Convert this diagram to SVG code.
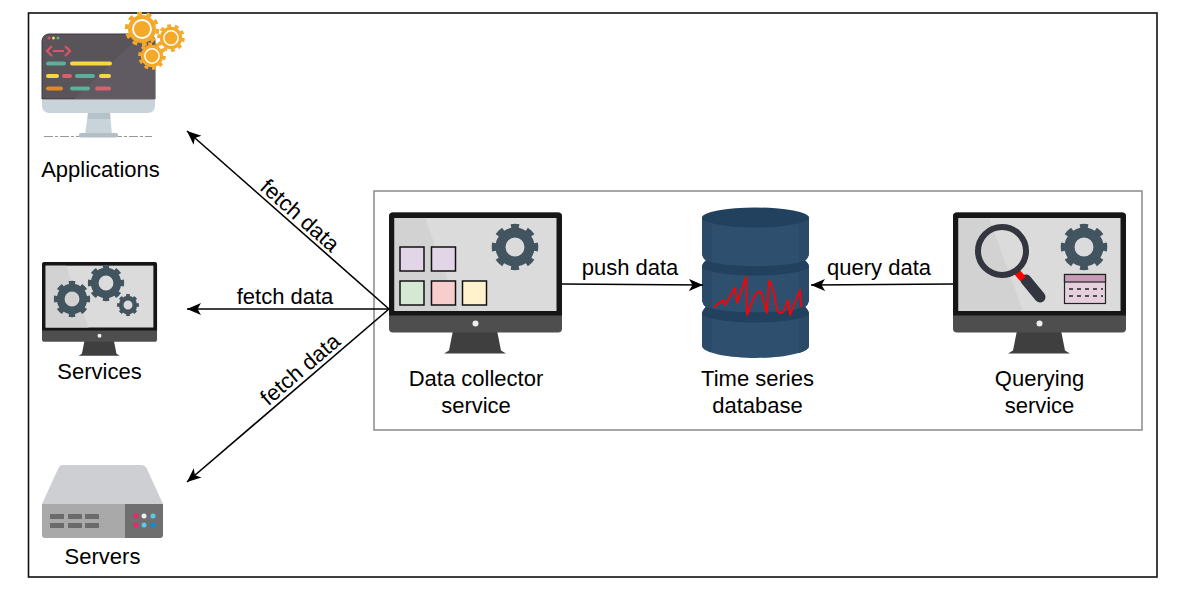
<svg xmlns="http://www.w3.org/2000/svg" xmlns:xlink="http://www.w3.org/1999/xlink" width="1178" height="596" viewBox="0 0 1178 596">
<style>
text{font-family:"Liberation Sans",Arial,sans-serif;font-size:22px;fill:#000;text-anchor:middle}
.c{fill:none;stroke:#000;stroke-width:1.6;marker-end:url(#a)}
.sq{stroke:#111;stroke-width:1.5}
.r{fill:none;stroke-linecap:round;stroke-width:4}
</style>
<defs>
<marker id="a" markerUnits="userSpaceOnUse" markerWidth="16" markerHeight="14" refX="14" refY="7" orient="auto"><path d="M0 1L14 7L0 13L3.500 7Z" fill="#000"/></marker>
<g id="gear"><circle r="14.500" fill="none" stroke="#42545f" stroke-width="10"/><circle r="20" fill="none" stroke="#42545f" stroke-width="6.500" pathLength="16" stroke-dasharray="1" stroke-dashoffset=".5"/></g>
<g id="ogear"><circle r="14" fill="#f4a92a"/><circle r="15.500" fill="none" stroke="#f4a92a" stroke-width="3.500" pathLength="20" stroke-dasharray="1"/><circle r="9" fill="#f4a92a" stroke="#fff" stroke-width="1.800"/></g>
<g id="mon">
<path d="M64 118H108L112 138L117 141H55L60 138Z" fill="#3f3f3f"/>
<rect x="0" y="0" width="173" height="120" rx="4" fill="#4e4e4e"/>
<path d="M0 4a4 4 0 0 1 4-4H169a4 4 0 0 1 4 4V103H0Z" fill="#161616"/>
<rect x="5.500" y="5.500" width="162" height="93" fill="#dbdbdb"/>
<path d="M5.500 5.500H36L70 98.500H5.500Z" fill="#d2d2d2"/>
<circle cx="86.500" cy="111" r="3" fill="#eee"/>
</g>
</defs>

<rect id="frame" x="28.500" y="13" width="1128.500" height="564" fill="#fff" stroke="#111" stroke-width="1.600"/>
<rect id="boundary" x="374" y="191" width="768" height="239" fill="none" stroke="#8a8a8a" stroke-width="1.500"/>

<g id="applications">
<path d="M88 113H110L112 135H85Z" fill="#c9d4da"/><path d="M88 113H110L110.500 119H87.500Z" fill="#b6c2c9"/>
<path d="M44 136.500H80M113 136.500H152" stroke="#999" stroke-width="1" stroke-dasharray="9 2 3 2"/>
<rect x="79" y="133" width="39" height="4.500" rx="2" fill="#b4bec6"/>
<path d="M42 100H155V106a7 7 0 0 1-7 7H49a7 7 0 0 1-7-7Z" fill="#c9d4da"/>
<path d="M42 99V41a7 7 0 0 1 7-7H148a7 7 0 0 1 7 7V99Z" fill="#59535a" stroke="#3e3b40" stroke-width="1"/>
<path d="M74 99L142 34H148a7 7 0 0 1 7 7V99Z" fill="#605a62"/>
<circle cx="49" cy="38" r="1.500" fill="#e0556a"/><circle cx="53.500" cy="38" r="1.500" fill="#f6d743"/><circle cx="58" cy="38" r="1.500" fill="#5ab09a"/>
<path d="M52 46L47 51L52 56M65 46L70 51L65 56M53 51H64" fill="none" stroke="#dc5464" stroke-width="2.200"/>
<path class="r" stroke="#5ab09a" d="M48 63.500H64M77 76H93M72 88.500H88"/>
<path class="r" stroke="#f6d743" d="M72 63.500H110M48 76H57M101 76H109"/>
<path class="r" stroke="#dc5f6c" d="M64 76H70M97 88.500H109"/>
<path class="r" stroke="#e08a1e" d="M48 88.500H61"/>
<use xlink:href="#ogear" href="#ogear" transform="translate(142 29)"/>
<use xlink:href="#ogear" href="#ogear" transform="translate(171 38) scale(.8)"/>
<use xlink:href="#ogear" href="#ogear" transform="translate(152 56) scale(.8)"/>
<text x="100.500" y="177">Applications</text>
</g>

<g id="services">
<use xlink:href="#mon" href="#mon" transform="translate(42 262) scale(.665)"/>
<use xlink:href="#gear" href="#gear" transform="translate(72 299) scale(.78)"/>
<use xlink:href="#gear" href="#gear" transform="translate(106 283) scale(.78)"/>
<use xlink:href="#gear" href="#gear" transform="translate(128 305) scale(.47)"/>
<text x="99.500" y="379">Services</text>
</g>

<g id="servers">
<path d="M62 465H141Q145 465 147 469L163 504H42L58 469Q60 465 62 465Z" fill="#cdcfd2"/>
<path d="M42 504H125V538H45Q42 538 42 535Z" fill="#a9a9a9"/>
<path d="M125 504H163V535Q163 538 160 538H125Z" fill="#6f6f6f"/>
<g fill="#6b6b6b"><rect x="50" y="514" width="14" height="5"/><rect x="68" y="514" width="14" height="5"/><rect x="85" y="514" width="14" height="5"/><rect x="50" y="523" width="14" height="5"/><rect x="68" y="523" width="14" height="5"/><rect x="85" y="523" width="14" height="5"/></g>
<circle cx="136" cy="516" r="2.500" fill="#f0246e"/><circle cx="144" cy="516" r="2.500" fill="#eee"/><circle cx="153" cy="516" r="2.500" fill="#5bc8ef"/>
<circle cx="136" cy="525" r="2.500" fill="#f0246e"/><circle cx="144" cy="525" r="2.500" fill="#5bc8ef"/><circle cx="153" cy="525" r="2.500" fill="#0a8fd8"/>
<text x="102.500" y="564">Servers</text>
</g>

<g id="data-collector">
<use xlink:href="#mon" href="#mon" transform="translate(389 212.500)"/>
<use xlink:href="#gear" href="#gear" transform="translate(515 247)"/>
<rect class="sq" x="400" y="247" width="24" height="24" fill="#e1d5e7"/>
<rect class="sq" x="431.500" y="247" width="24" height="24" fill="#e1d5e7"/>
<rect class="sq" x="400" y="281" width="24" height="24" fill="#d5e8d4"/>
<rect class="sq" x="431.500" y="281" width="24" height="24" fill="#f8cecc"/>
<rect class="sq" x="462.500" y="281" width="24" height="24" fill="#fff2cc"/>
<text x="476" y="386">Data collector</text>
<text x="476" y="413">service</text>
</g>

<g id="time-series-db">
<path d="M702 218V252Q702 258 706 260.500Q702 263 702 268V299Q702 304 706 307Q702 310 702 315V346C702 353 730 358 756 358S809 353 809 346V315Q809 310 805 307Q809 304 809 299V268Q809 263 805 260.500Q809 258 809 252V218Z" fill="#2f4f6e"/>
<path d="M702 218V252Q702 258 706 260.500Q702 263 702 268V299Q702 304 706 307Q702 310 702 315V346Q704 350 712 351V218Z" fill="#2b4a68"/>
<path d="M799 218V353Q809 350 809 346V315Q809 310 805 307Q809 304 809 299V268Q809 263 805 260.500Q809 258 809 252V218Z" fill="#2b4a68"/>
<ellipse cx="755.500" cy="217.500" rx="53.500" ry="10" fill="#22415e"/>
<path d="M706 260.500C725 268 786 268 805 260.500L808 264Q809 266 809 268C790 278 721 278 702 268Q702 264 706 260.500Z" fill="#22415e"/>
<path d="M706 307C725 314 786 314 805 307L808 311Q809 313 809 315C790 325 721 325 702 315Q702 311 706 307Z" fill="#22415e"/>
<path d="M714 307L723 300L725 305L735 288L737 303L746 277L747 315L753 300Q757 289 761 292L767 313L769 281Q773 283 777 310Q780 315 784 311L788 300L790 315L800 290L801 307" fill="none" stroke="#f00" stroke-width="1.800" stroke-linejoin="round"/>
<text x="757.500" y="386">Time series</text>
<text x="757.500" y="413">database</text>
</g>

<g id="querying">
<use xlink:href="#mon" href="#mon" transform="translate(953 212.500)"/>
<use xlink:href="#gear" href="#gear" transform="translate(1084 247)"/>
<path d="M1026 280L1040 297" stroke="#33353f" stroke-width="11" stroke-linecap="round"/>
<path d="M1017 272L1023 279" stroke="#f00" stroke-width="7"/>
<circle cx="1002" cy="251" r="24" fill="none" stroke="#33353f" stroke-width="6"/>
<rect x="1064.500" y="274.500" width="41" height="29" fill="#e6d0de" stroke="#222" stroke-width="1.200"/>
<rect x="1064.500" y="274.500" width="41" height="7.500" fill="#c79ab8" stroke="#222" stroke-width="1.200"/>
<path d="M1069 289H1103M1069 296H1103" stroke="#222" stroke-width="1.500" stroke-dasharray="4 4"/>
<text x="1039.500" y="386">Querying</text>
<text x="1039.500" y="413">service</text>
</g>

<g id="connectors">
<path class="c" d="M389 309L187 131"/>
<path class="c" d="M389 309H187"/>
<path class="c" d="M389 309L187 482"/>
<path class="c" d="M562 284L703 285"/>
<path class="c" d="M953 284L811 285"/>
<text transform="translate(295 221) rotate(41.500)">fetch data</text>
<text x="285" y="304">fetch data</text>
<text transform="translate(305 375) rotate(-40.500)">fetch data</text>
<text x="630" y="275">push data</text>
<text x="879" y="275">query data</text>
</g>
</svg>
